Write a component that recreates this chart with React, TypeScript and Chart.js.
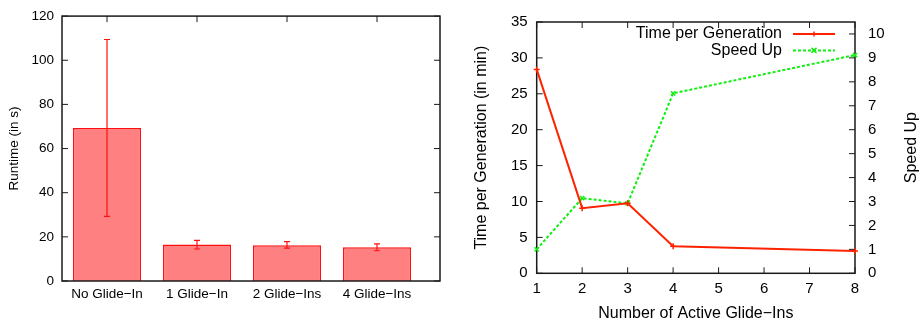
import React, { useEffect, useRef } from 'react';
import { Chart, registerables } from 'chart.js';

Chart.register(...registerables);

// ---------- Data ----------
const barCategories = ['No Glide\u2212In', '1 Glide\u2212In', '2 Glide\u2212Ins', '4 Glide\u2212Ins'];
const runtimeMean = [69.3, 16.5, 16.2, 15.3];
const runtimeLow = [29.3, 14.5, 14.9, 13.7];
const runtimeHigh = [109.4, 18.4, 17.8, 16.8];

const activeGlideIns = [1, 2, 3, 4, 8];
const timePerGeneration = [28.4, 9.07, 9.75, 3.78, 3.1];
const speedUp = [1.0, 3.14, 2.92, 7.52, 9.12];

const seriesLabels = ['Time per Generation', 'Speed Up'];

const FONT = "'Liberation Sans', Arial, Helvetica, sans-serif";
const RED = '#ff2200';
const GREEN = '#11ee11';
const FRAME = '#1a1a1a';

type TickSpec = { id: string; sides: string[] };

const frameTicks = {
  id: 'frameTicks',
  beforeDatasetsDraw(chart: any, _args: any, opts: any) {
    const { ctx, chartArea: a, scales } = chart;
    const L = opts.len ?? 6;
    ctx.save();
    ctx.strokeStyle = FRAME;
    ctx.lineWidth = 1;
    (opts.axes as TickSpec[]).forEach((spec) => {
      const s = scales[spec.id];
      s.ticks.forEach((t: any) => {
        const p = s.getPixelForValue(t.value);
        spec.sides.forEach((side) => {
          ctx.beginPath();
          if (side === 'bottom') { ctx.moveTo(p, a.bottom); ctx.lineTo(p, a.bottom - L); }
          if (side === 'top') { ctx.moveTo(p, a.top); ctx.lineTo(p, a.top + L); }
          if (side === 'left') { ctx.moveTo(a.left, p); ctx.lineTo(a.left + L, p); }
          if (side === 'right') { ctx.moveTo(a.right, p); ctx.lineTo(a.right - L, p); }
          ctx.stroke();
        });
      });
    });
    if (!opts.frameOnTop) {
      ctx.lineWidth = 1.5;
      ctx.strokeRect(a.left, a.top, a.right - a.left, a.bottom - a.top);
    }
    ctx.restore();
  },
  afterDatasetsDraw(chart: any, _args: any, opts: any) {
    if (!opts.frameOnTop) return;
    const { ctx, chartArea: a } = chart;
    ctx.save();
    ctx.strokeStyle = FRAME;
    ctx.lineWidth = 1.5;
    ctx.strokeRect(a.left, a.top, a.right - a.left, a.bottom - a.top);
    ctx.restore();
  },
};

const errorBars = {
  id: 'errorBars',
  afterDatasetsDraw(chart: any) {
    const { ctx } = chart;
    const xs = chart.scales.x;
    const ys = chart.scales.y;
    ctx.save();
    ctx.strokeStyle = '#ff1010';
    ctx.lineWidth = 1.2;
    runtimeLow.forEach((lo, i) => {
      const px = xs.getPixelForValue(i);
      const yl = ys.getPixelForValue(lo);
      const yh = ys.getPixelForValue(runtimeHigh[i]);
      ctx.beginPath();
      ctx.moveTo(px, yl); ctx.lineTo(px, yh);
      ctx.moveTo(px - 3, yl); ctx.lineTo(px + 3, yl);
      ctx.moveTo(px - 3, yh); ctx.lineTo(px + 3, yh);
      ctx.stroke();
    });
    ctx.restore();
  },
};

function drawMarker(ctx: CanvasRenderingContext2D, x: number, y: number, style: string, r: number) {
  ctx.beginPath();
  if (style === 'cross') {
    ctx.moveTo(x - r, y); ctx.lineTo(x + r, y);
    ctx.moveTo(x, y - r); ctx.lineTo(x, y + r);
  } else {
    ctx.moveTo(x - r, y - r); ctx.lineTo(x + r, y + r);
    ctx.moveTo(x - r, y + r); ctx.lineTo(x + r, y - r);
  }
  ctx.stroke();
}

const lineLegend = {
  id: 'lineLegend',
  afterDraw(chart: any) {
    const { ctx, chartArea: a } = chart;
    const sampleEnd = a.right - 20;
    const sampleStart = sampleEnd - 42;
    const textRight = sampleStart - 11;
    ctx.save();
    ctx.font = `16px ${FONT}`;
    ctx.textAlign = 'right';
    ctx.textBaseline = 'middle';
    chart.data.datasets.forEach((ds: any, i: number) => {
      const y = a.top + 12 + i * 16.4;
      ctx.fillStyle = '#000';
      ctx.fillText(ds.label, textRight, y);
      ctx.strokeStyle = ds.borderColor;
      ctx.lineWidth = 2;
      ctx.setLineDash(ds.borderDash || []);
      ctx.beginPath();
      ctx.moveTo(sampleStart, y); ctx.lineTo(sampleEnd, y);
      ctx.stroke();
      ctx.setLineDash([]);
      ctx.lineWidth = 1.5;
      drawMarker(ctx, (sampleStart + sampleEnd) / 2, y, ds.pointStyle, 2.5);
    });
    ctx.restore();
  },
};

const rightTitle = {
  id: 'rightTitle',
  afterDraw(chart: any) {
    const { ctx, chartArea: a } = chart;
    ctx.save();
    ctx.font = `16px ${FONT}`;
    ctx.fillStyle = '#000';
    ctx.textAlign = 'center';
    ctx.textBaseline = 'middle';
    ctx.translate(chart.width - 8.5, (a.top + a.bottom) / 2);
    ctx.rotate(-Math.PI / 2);
    ctx.fillText('Speed Up', 0, 0);
    ctx.restore();
  },
};

const noGrid = { display: false, drawTicks: false, tickLength: 0 };

function BarChart() {
  const ref = useRef<HTMLCanvasElement>(null);
  useEffect(() => {
    const font = { family: FONT, size: 13.5 };
    const chart = new Chart(ref.current!, {
      type: 'bar',
      data: {
        datasets: [
          {
            data: barCategories.map((_, i) => ({ x: i, y: runtimeMean[i] })) as any,
            backgroundColor: '#ff8080',
            borderColor: '#ff1010',
            borderWidth: 1.5,
            barPercentage: 0.756,
            categoryPercentage: 1,
          },
        ],
      },
      options: {
        animation: false,
        responsive: false,
        devicePixelRatio: 1,
        layout: { padding: { left: 0, right: 15, top: 12, bottom: 0 } },
        plugins: {
          legend: { display: false },
          tooltip: { enabled: false },
          frameTicks: {
            len: 6,
            frameOnTop: true,
            axes: [
              { id: 'x', sides: ['top', 'bottom'] },
              { id: 'y', sides: ['left', 'right'] },
            ],
          },
        } as any,
        scales: {
          x: {
            type: 'linear',
            min: -0.5,
            max: 3.7,
            offset: false,
            grid: noGrid,
            border: { display: false },
            ticks: {
              stepSize: 1,
              includeBounds: false,
              autoSkip: false,
              maxRotation: 0,
              padding: 5.5,
              color: '#000',
              font,
              callback: (v: any) => barCategories[v] ?? '',
            },
            afterFit: (s: any) => { s.height = 44; },
          },
          y: {
            min: 0,
            max: 120,
            grid: noGrid,
            border: { display: false },
            ticks: { stepSize: 20, padding: 8, color: '#000', font },
            title: {
              display: true,
              text: 'Runtime (in s)',
              color: '#000',
              font,
              padding: { top: 5.7, bottom: 0 },
            },
            afterFit: (s: any) => { s.width = 62; },
          },
        },
      },
      plugins: [frameTicks, errorBars],
    });
    return () => chart.destroy();
  }, []);
  return <canvas ref={ref} width={455} height={325} style={{ width: 455, height: 325, display: 'block' }} />;
}

function LineChart() {
  const ref = useRef<HTMLCanvasElement>(null);
  useEffect(() => {
    const tickFont = { family: FONT, size: 15 };
    const titleFont = { family: FONT, size: 16 };
    const chart = new Chart(ref.current!, {
      type: 'line',
      data: {
        datasets: [
          {
            label: seriesLabels[0],
            data: activeGlideIns.map((x, i) => ({ x, y: timePerGeneration[i] })) as any,
            borderColor: RED,
            backgroundColor: RED,
            borderWidth: 2,
            pointStyle: 'cross',
            pointRadius: 3,
            pointBorderWidth: 1.5,
            pointBorderColor: RED,
            yAxisID: 'y',
            clip: false as any,
            tension: 0,
          },
          {
            label: seriesLabels[1],
            data: activeGlideIns.map((x, i) => ({ x, y: speedUp[i] })) as any,
            borderColor: GREEN,
            backgroundColor: GREEN,
            borderWidth: 2,
            borderDash: [3, 2],
            pointStyle: 'crossRot',
            pointRadius: 3,
            pointBorderWidth: 1.5,
            pointBorderColor: GREEN,
            yAxisID: 'y2',
            clip: false as any,
            tension: 0,
          },
        ],
      },
      options: {
        animation: false,
        responsive: false,
        devicePixelRatio: 1,
        layout: { padding: { left: 0, right: 0, top: 17.3, bottom: 0 } },
        plugins: {
          legend: { display: false },
          tooltip: { enabled: false },
          frameTicks: {
            len: 6,
            frameOnTop: false,
            axes: [
              { id: 'x', sides: ['top', 'bottom'] },
              { id: 'y', sides: ['left'] },
              { id: 'y2', sides: ['right'] },
            ],
          },
        } as any,
        scales: {
          x: {
            type: 'linear',
            min: 1,
            max: 8,
            grid: noGrid,
            border: { display: false },
            ticks: { stepSize: 1, padding: 7, color: '#000', font: tickFont, maxRotation: 0 },
            title: {
              display: true,
              text: 'Number of Active Glide\u2212Ins',
              color: '#000',
              font: titleFont,
              padding: { top: 0, bottom: 1.5 },
            },
            afterFit: (s: any) => { s.height = 51.7; },
          },
          y: {
            type: 'linear',
            position: 'left',
            min: 0,
            max: 35,
            grid: noGrid,
            border: { display: false },
            ticks: { stepSize: 5, padding: 9, color: '#000', font: tickFont },
            title: {
              display: true,
              text: 'Time per Generation (in min)',
              color: '#000',
              font: titleFont,
              padding: { top: 12, bottom: 0 },
            },
            afterFit: (s: any) => { s.width = 76.7; },
          },
          y2: {
            type: 'linear',
            position: 'right',
            min: 0,
            max: 10.5,
            grid: noGrid,
            border: { display: false },
            ticks: { stepSize: 1, includeBounds: false, padding: 13, color: '#000', font: tickFont },
            afterFit: (s: any) => { s.width = 65; },
          },
        },
      },
      plugins: [frameTicks, lineLegend, rightTitle],
    });
    return () => chart.destroy();
  }, []);
  return <canvas ref={ref} width={460} height={325} style={{ width: 460, height: 325, display: 'block' }} />;
}

export default function App() {
  return (
    <div style={{ position: 'fixed', left: 0, top: 0, width: 920, height: 325, background: '#fff' }}>
      <div style={{ position: 'absolute', left: 0, top: 0 }}>
        <BarChart />
      </div>
      <div style={{ position: 'absolute', left: 460, top: 0 }}>
        <LineChart />
      </div>
    </div>
  );
}
